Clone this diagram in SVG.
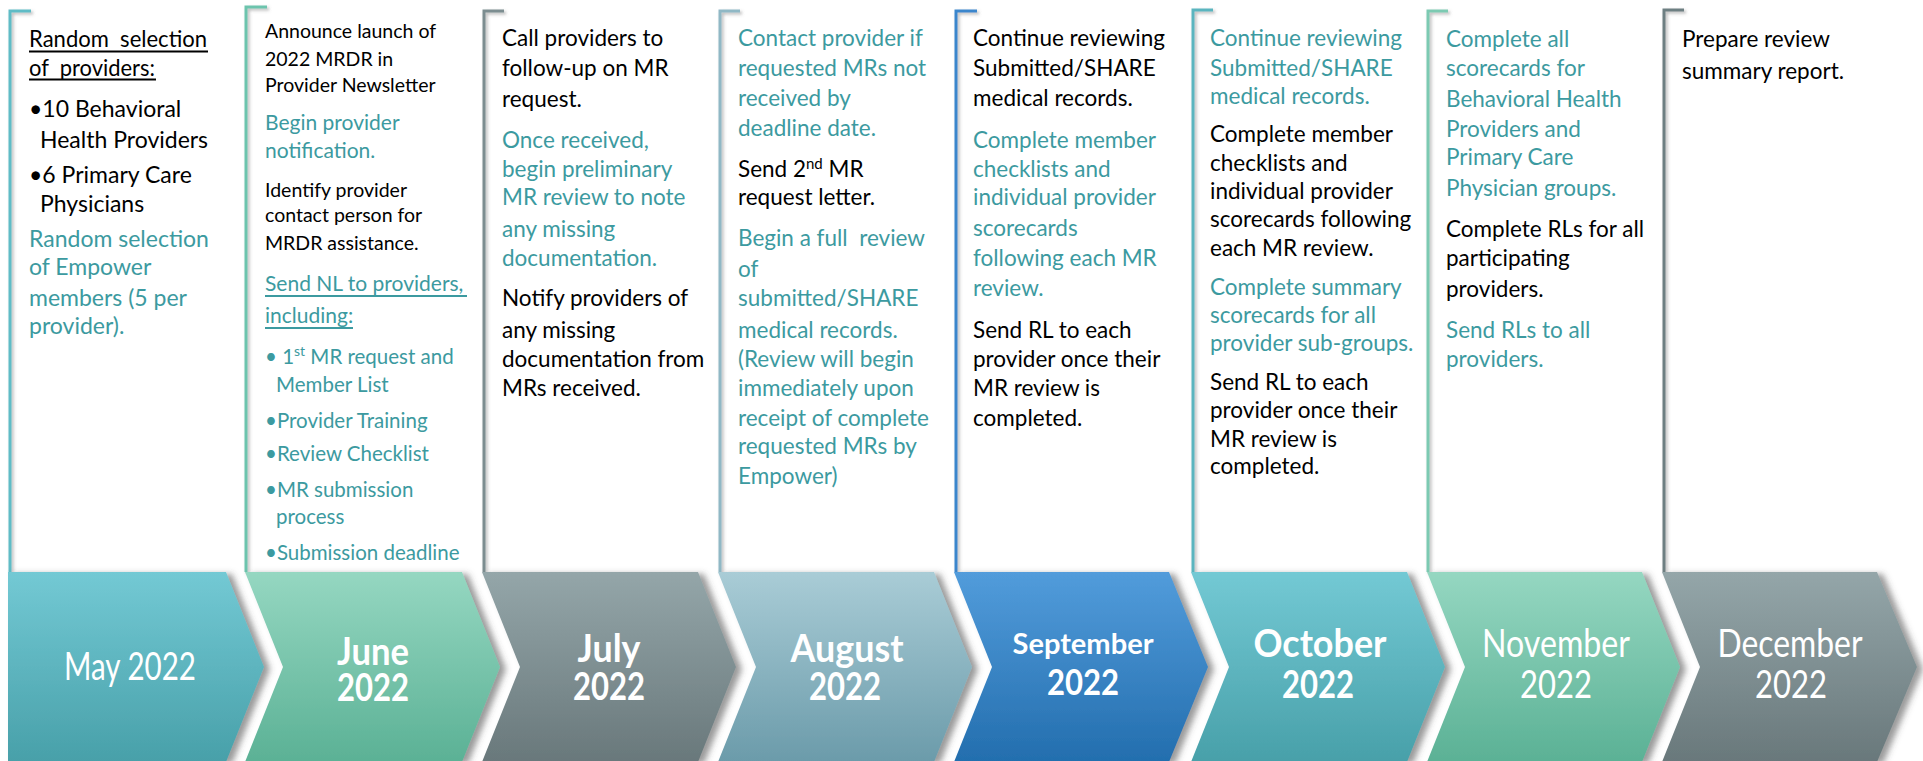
<svg xmlns="http://www.w3.org/2000/svg" width="1923" height="761" viewBox="0 0 1923 761">
<defs>
<style>
text{font-family:Lato,"Open Sans","Liberation Sans",sans-serif}
.bt{font-size:22.5px;fill:#000}
.tt{font-size:22.5px;fill:#3c9aa0}
.c1{font-size:23px}
.c2b{font-size:19.5px}
.c2t{font-size:21px}
.c2s{font-size:20.5px}
.ml{font-size:39px;fill:#fff;text-anchor:middle}
.mb{font-weight:bold}
.br{fill:none;stroke-width:3}
.ul{stroke-width:2}
.chev{filter:url(#sh)}
</style>
<filter id="sh" x="-10%" y="-10%" width="130%" height="130%">
<feDropShadow dx="6" dy="2" stdDeviation="3" flood-color="#4a4a4a" flood-opacity="0.55"/>
</filter>
<filter id="lsh" x="-50%" y="-5%" width="300%" height="110%">
<feDropShadow dx="2" dy="2" stdDeviation="1.5" flood-color="#777" flood-opacity="0.5"/>
</filter>
<linearGradient id="gTeal" x1="0" y1="0" x2="0" y2="1"><stop offset="0" stop-color="#73c9d4"/><stop offset="1" stop-color="#48a0a9"/></linearGradient>
<linearGradient id="gGreen" x1="0" y1="0" x2="0" y2="1"><stop offset="0" stop-color="#95d7c1"/><stop offset="1" stop-color="#5bb195"/></linearGradient>
<linearGradient id="gGray" x1="0" y1="0" x2="0" y2="1"><stop offset="0" stop-color="#94a6a9"/><stop offset="1" stop-color="#69787b"/></linearGradient>
<linearGradient id="gSlate" x1="0" y1="0" x2="0" y2="1"><stop offset="0" stop-color="#a9ccd6"/><stop offset="1" stop-color="#6b9baa"/></linearGradient>
<linearGradient id="gBlue" x1="0" y1="0" x2="0" y2="1"><stop offset="0" stop-color="#529cdb"/><stop offset="1" stop-color="#236eae"/></linearGradient>
</defs>
<rect width="1923" height="761" fill="#fff"/>
<g id="connectors"/>

<g id="n-may">
<path class="br" stroke="#5fbcc6" filter="url(#lsh)" d="M31,11 H10 V572"/>
<path class="chev" fill="url(#gTeal)" d="M8,572 H226 L264,667 L226,762 H8 Z"/>
<text class="ml" x="130" y="680" textLength="132" lengthAdjust="spacingAndGlyphs">May 2022</text>
<text class="bt c1"><tspan x="29" y="47" textLength="178" lengthAdjust="spacingAndGlyphs">Random&#160; selection</tspan><tspan x="29" y="75.5" textLength="126" lengthAdjust="spacingAndGlyphs">of&#160; providers:</tspan></text>
<line class="ul" stroke="#000" x1="29" y1="51.5" x2="208" y2="51.5"/>
<line class="ul" stroke="#000" x1="29" y1="79.5" x2="156" y2="79.5"/>
<text class="bt c1"><tspan x="29" y="117">•10 Behavioral</tspan><tspan x="40" y="148">Health Providers</tspan><tspan x="29" y="182.5">•6 Primary Care</tspan><tspan x="40" y="212">Physicians</tspan></text>
<text class="tt c1"><tspan x="29" y="246.5">Random selection</tspan><tspan x="29" y="275">of Empower</tspan><tspan x="29" y="306">members (5 per</tspan><tspan x="29" y="334">provider).</tspan></text>
</g>

<g id="n-june">
<path class="br" stroke="#6cc4ad" filter="url(#lsh)" d="M267,7 H246 V572"/>
<path class="chev" fill="url(#gGreen)" d="M245,572 H462 L500,667 L462,762 H245 L283,667 Z"/>
<text class="ml mb"><tspan x="373" y="665" textLength="72" lengthAdjust="spacingAndGlyphs">June</tspan><tspan x="373" y="701" textLength="72" lengthAdjust="spacingAndGlyphs">2022</tspan></text>
<text class="bt c2b"><tspan x="265" y="38">Announce launch of</tspan><tspan x="265" y="66">2022 MRDR in</tspan><tspan x="265" y="91.5">Provider Newsletter</tspan></text>
<text class="tt c2t"><tspan x="265" y="130">Begin provider</tspan><tspan x="265" y="157.5">notification.</tspan></text>
<text class="bt c2b"><tspan x="265" y="196.5">Identify provider</tspan><tspan x="265" y="221.5">contact person for</tspan><tspan x="265" y="250">MRDR assistance.</tspan></text>
<text class="tt c2t"><tspan x="265" y="291">Send NL to providers,</tspan><tspan x="265" y="322.5">including:</tspan></text>
<line class="ul" stroke="#3c9aa0" x1="265" y1="296" x2="467" y2="296"/>
<line class="ul" stroke="#3c9aa0" x1="265" y1="328" x2="353" y2="328"/>
<text class="tt c2s"><tspan x="265" y="363.5">• 1</tspan><tspan dy="-8" font-size="14">st</tspan><tspan dy="8"> MR request and</tspan><tspan x="276" y="392">Member List</tspan><tspan x="265" y="428">•Provider Training</tspan><tspan x="265" y="461">•Review Checklist</tspan><tspan x="265" y="497">•MR submission</tspan><tspan x="276" y="524">process</tspan><tspan x="265" y="560">•Submission deadline</tspan></text>
</g>

<g id="n-july">
<path class="br" stroke="#7b8d90" filter="url(#lsh)" d="M504,11 H484 V572"/>
<path class="chev" fill="url(#gGray)" d="M482,572 H698 L736,667 L698,762 H482 L520,667 Z"/>
<text class="ml mb"><tspan x="609" y="662" textLength="63" lengthAdjust="spacingAndGlyphs">July</tspan><tspan x="609" y="700" textLength="72" lengthAdjust="spacingAndGlyphs">2022</tspan></text>
<text class="bt"><tspan x="502" y="46">Call providers to</tspan><tspan x="502" y="75.5">follow-up on MR</tspan><tspan x="502" y="107">request.</tspan></text>
<text class="tt"><tspan x="502" y="147.5">Once received,</tspan><tspan x="502" y="176.5">begin preliminary</tspan><tspan x="502" y="205">MR review to note</tspan><tspan x="502" y="237">any missing</tspan><tspan x="502" y="265.5">documentation.</tspan></text>
<text class="bt"><tspan x="502" y="306">Notify providers of</tspan><tspan x="502" y="337.5">any missing</tspan><tspan x="502" y="367">documentation from</tspan><tspan x="502" y="395.5">MRs received.</tspan></text>
</g>

<g id="n-august">
<path class="br" stroke="#90b8c5" filter="url(#lsh)" d="M740,11 H720 V572"/>
<path class="chev" fill="url(#gSlate)" d="M718,572 H934 L972,667 L934,762 H718 L756,667 Z"/>
<text class="ml mb"><tspan x="847" y="662" textLength="113" lengthAdjust="spacingAndGlyphs">August</tspan><tspan x="845" y="700" textLength="72" lengthAdjust="spacingAndGlyphs">2022</tspan></text>
<text class="tt"><tspan x="738" y="46">Contact provider if</tspan><tspan x="738" y="75.5">requested MRs not</tspan><tspan x="738" y="106">received by</tspan><tspan x="738" y="135.5">deadline date.</tspan></text>
<text class="bt"><tspan x="738" y="176.5">Send 2</tspan><tspan dy="-8" font-size="15">nd</tspan><tspan dy="8"> MR</tspan><tspan x="738" y="205">request letter.</tspan></text>
<text class="tt"><tspan x="738" y="245.5">Begin a full&#160; review</tspan><tspan x="738" y="277">of</tspan><tspan x="738" y="306">submitted/SHARE</tspan><tspan x="738" y="337.5">medical records.</tspan><tspan x="738" y="367">(Review will begin</tspan><tspan x="738" y="395.5">immediately upon</tspan><tspan x="738" y="426">receipt of complete</tspan><tspan x="738" y="454">requested MRs by</tspan><tspan x="738" y="483.5">Empower)</tspan></text>
</g>

<g id="n-september">
<path class="br" stroke="#3b86cc" filter="url(#lsh)" d="M977,11 H956 V572"/>
<path class="chev" fill="url(#gBlue)" d="M954,572 H1169 L1208,667 L1169,762 H954 L992,667 Z"/>
<text class="ml mb"><tspan x="1083" y="654" font-size="28" textLength="141" lengthAdjust="spacingAndGlyphs">September</tspan><tspan x="1083" y="695" font-size="36" textLength="72" lengthAdjust="spacingAndGlyphs">2022</tspan></text>
<text class="bt"><tspan x="973" y="46">Continue reviewing</tspan><tspan x="973" y="75.5">Submitted/SHARE</tspan><tspan x="973" y="106">medical records.</tspan></text>
<text class="tt"><tspan x="973" y="147.5">Complete member</tspan><tspan x="973" y="176.5">checklists and</tspan><tspan x="973" y="205">individual provider</tspan><tspan x="973" y="236">scorecards</tspan><tspan x="973" y="265.5">following each MR</tspan><tspan x="973" y="296">review.</tspan></text>
<text class="bt"><tspan x="973" y="337.5">Send RL to each</tspan><tspan x="973" y="367">provider once their</tspan><tspan x="973" y="395.5">MR review is</tspan><tspan x="973" y="426">completed.</tspan></text>
</g>

<g id="n-october">
<path class="br" stroke="#5ab5bf" filter="url(#lsh)" d="M1213,10 H1193 V572"/>
<path class="chev" fill="url(#gTeal)" d="M1191,572 H1407 L1445,667 L1407,762 H1191 L1229,667 Z"/>
<text class="ml mb"><tspan x="1320" y="657" textLength="133" lengthAdjust="spacingAndGlyphs">October</tspan><tspan x="1318" y="698" textLength="72" lengthAdjust="spacingAndGlyphs">2022</tspan></text>
<text class="tt"><tspan x="1210" y="46">Continue reviewing</tspan><tspan x="1210" y="75.5">Submitted/SHARE</tspan><tspan x="1210" y="103.5">medical records.</tspan></text>
<text class="bt"><tspan x="1210" y="142">Complete member</tspan><tspan x="1210" y="170.5">checklists and</tspan><tspan x="1210" y="199">individual provider</tspan><tspan x="1210" y="227">scorecards following</tspan><tspan x="1210" y="255.5">each MR review.</tspan></text>
<text class="tt"><tspan x="1210" y="295">Complete summary</tspan><tspan x="1210" y="323">scorecards for all</tspan><tspan x="1210" y="350.5">provider sub-groups.</tspan></text>
<text class="bt"><tspan x="1210" y="389.5">Send RL to each</tspan><tspan x="1210" y="418">provider once their</tspan><tspan x="1210" y="446.5">MR review is</tspan><tspan x="1210" y="474">completed.</tspan></text>
</g>

<g id="n-november">
<path class="br" stroke="#7ccab2" filter="url(#lsh)" d="M1448,11 H1428 V572"/>
<path class="chev" fill="url(#gGreen)" d="M1427,572 H1642 L1680,667 L1642,762 H1427 L1465,667 Z"/>
<text class="ml"><tspan x="1556" y="657" textLength="148" lengthAdjust="spacingAndGlyphs">November</tspan><tspan x="1556" y="698" textLength="72" lengthAdjust="spacingAndGlyphs">2022</tspan></text>
<text class="tt"><tspan x="1446" y="47">Complete all</tspan><tspan x="1446" y="75.5">scorecards for</tspan><tspan x="1446" y="107">Behavioral Health</tspan><tspan x="1446" y="136.5">Providers and</tspan><tspan x="1446" y="165">Primary Care</tspan><tspan x="1446" y="195.5">Physician groups.</tspan></text>
<text class="bt"><tspan x="1446" y="237">Complete RLs for all</tspan><tspan x="1446" y="265.5">participating</tspan><tspan x="1446" y="297">providers.</tspan></text>
<text class="tt"><tspan x="1446" y="337.5">Send RLs to all</tspan><tspan x="1446" y="367">providers.</tspan></text>
</g>

<g id="n-december">
<path class="br" stroke="#6d7f82" filter="url(#lsh)" d="M1684,10 H1664 V572"/>
<path class="chev" fill="url(#gGray)" d="M1662,572 H1877 L1917,667 L1877,762 H1662 L1700,667 Z"/>
<text class="ml"><tspan x="1790" y="657" textLength="145" lengthAdjust="spacingAndGlyphs">December</tspan><tspan x="1791" y="698" textLength="72" lengthAdjust="spacingAndGlyphs">2022</tspan></text>
<text class="bt"><tspan x="1682" y="47">Prepare review</tspan><tspan x="1682" y="78.5">summary report.</tspan></text>
</g>
</svg>
